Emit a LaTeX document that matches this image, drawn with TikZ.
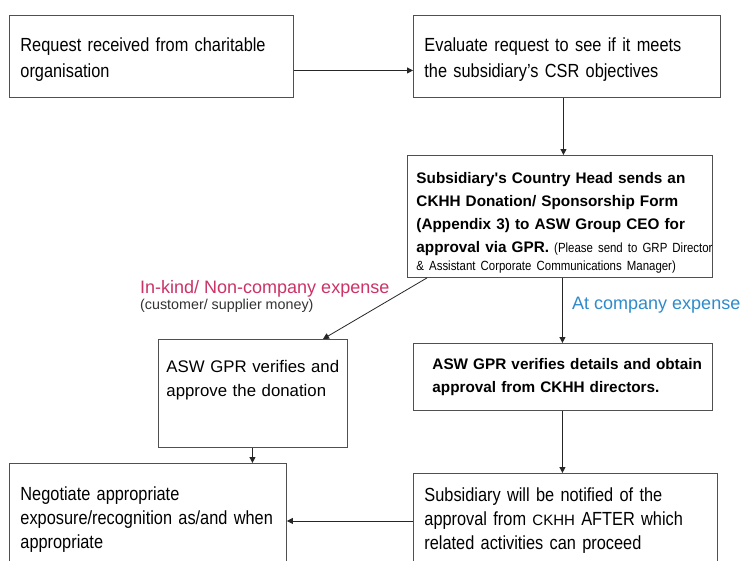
\documentclass[tikz,border=0pt]{standalone}
\usepackage{fontspec}
\setmainfont{Liberation Sans}
\newfontfamily\nar[FakeStretch=0.86]{Liberation Sans}
\usetikzlibrary{arrows.meta}
\definecolor{mag}{HTML}{CC3366}
\definecolor{blu}{HTML}{2F8BCB}
\definecolor{edge}{HTML}{505050}
\begin{document}
\begin{tikzpicture}[x=1pt,y=-1pt,
  box/.style={draw=edge, line width=0.9pt, anchor=north west, align=left, inner ysep=0pt},
  narbox/.style={box, font=\nar\fontsize{19}{24}\selectfont},
  boldbox/.style={box, font=\bfseries\fontsize{15.3}{23}\selectfont},
  arr/.style={-{Triangle[length=6pt,width=6pt]}, line width=0.8pt, draw=black!85},
  ln/.style={line width=0.8pt, draw=black!85}]
\useasboundingbox (0,0) rectangle (742,560);
\fill[white] (0,0) rectangle (742,560);

\node[narbox, font=\nar\fontsize{19}{26}\selectfont, inner xsep=11pt, text width=262pt, minimum width=284pt, minimum height=82pt] (b1) at (9,15)
  {\mbox{}\\[-6pt]Request received from charitable\\organisation};
\node[narbox, font=\nar\fontsize{19}{26}\selectfont, inner xsep=11pt, text width=285pt, minimum width=307pt, minimum height=82pt] (b2) at (413,15)
  {\mbox{}\\[-6pt]Evaluate request to see if it meets\\the subsidiary’s CSR objectives};
\node[boldbox, inner xsep=9pt, text width=287pt, minimum width=305pt, minimum height=122pt] (b3) at (407,155)
  {\mbox{}\\[1pt]
   Subsidiary\textquotesingle s Country Head sends an\\
   CKHH Donation/ Sponsorship Form\\
   (Appendix 3) to ASW Group CEO for\\
   \mbox{approval via GPR. {\mdseries\nar\fontsize{13.3}{18}\selectfont (Please send to GRP Director}}\\[-5pt]
   \mbox{\mdseries\nar\fontsize{13.3}{18}\selectfont \& Assistant Corporate Communications Manager)}};
\node[box, font=\fontsize{16.8}{24}\selectfont, inner xsep=8pt, text width=173pt, minimum width=189pt, minimum height=108pt] (b4) at (158,339)
  {ASW GPR verifies and\\approve the donation\\[6pt]\mbox{}};
\node[boldbox, inner xsep=19pt, text width=261pt, minimum width=299pt, minimum height=67pt] (b5) at (413,343)
  {\mbox{ASW GPR verifies details and obtain}\\\mbox{approval from CKHH directors.}};
\node[narbox, inner xsep=11pt, text width=255pt, minimum width=277pt, minimum height=112pt] (b6) at (9,463)
  {Negotiate appropriate\\exposure/recognition as/and when\\appropriate};
\node[narbox, inner xsep=11pt, text width=282pt, minimum width=304pt, minimum height=94pt] (b7) at (413,473)
  {Subsidiary will be notified of the\\
   \mbox{approval from {\rmfamily\fontsize{15}{24}\selectfont CKHH} AFTER which}\\
   related activities can proceed};

\node[font=\fontsize{18}{20}\selectfont, text=mag, anchor=west, inner sep=0pt] (l1) at (140,289) {In-kind/ Non-company expense};
\node[font=\fontsize{14.3}{16}\selectfont, text=black!80, anchor=west, inner sep=0pt] (l2) at (140,306) {(customer/ supplier money)};
\node[font=\fontsize{18}{20}\selectfont, text=blu, anchor=west, inner sep=0pt] (l3) at (572,305) {At company expense};

\draw[arr] ([yshift=-14pt]b1.east) -- ([yshift=-14pt]b2.west);
\draw[arr] ([xshift=-3.5pt]b2.south) -- ([xshift=-3.5pt]b2.south |- b3.north);
\draw[arr] ([xshift=-0.5pt]b5.north |- b3.south) -- ([xshift=-0.5pt]b5.north);
\draw[arr] ([xshift=20pt]b3.south west) -- ([xshift=165pt]b4.north west);
\draw[arr] ([xshift=-0.5pt]b4.south) -- ([xshift=-0.5pt]b4.south |- b6.north);
\draw[arr] ([xshift=-0.5pt]b5.south) -- ([xshift=-0.5pt]b5.south |- b7.north);
\draw[arr] ([yshift=-0.5pt]b7.west) -- ([yshift=-0.5pt]b7.west -| b6.east);
\end{tikzpicture}
\end{document}
